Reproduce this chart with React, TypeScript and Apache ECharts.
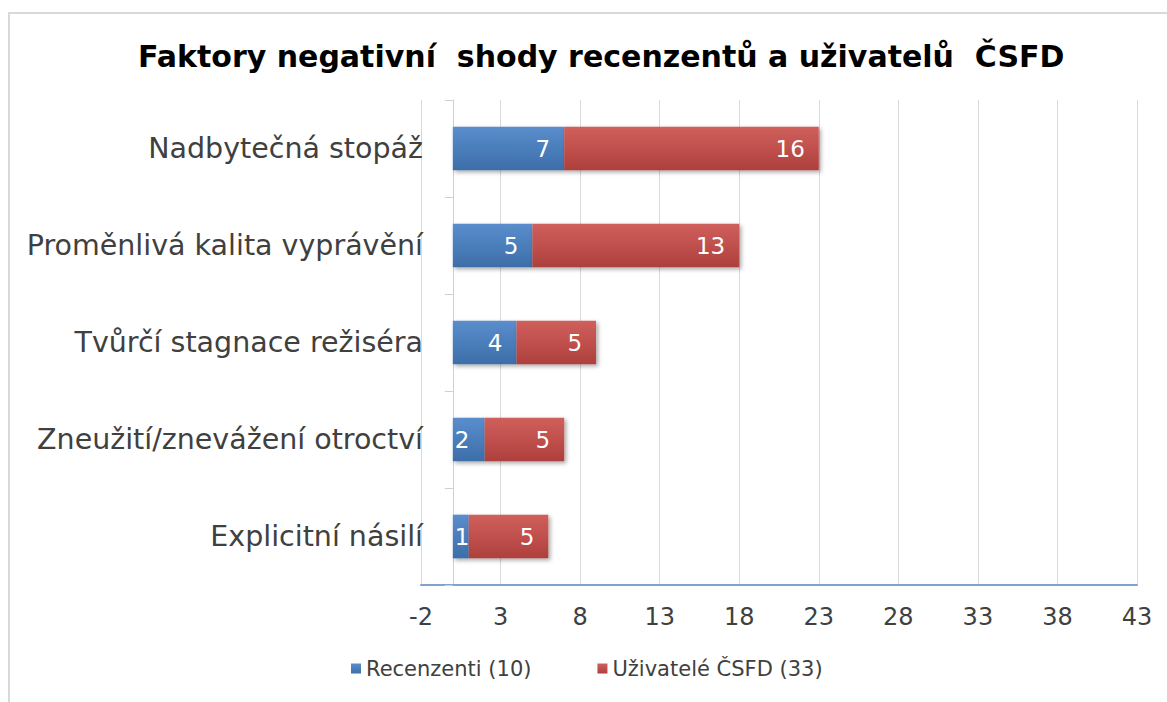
import React, { useEffect, useRef } from "react";
import * as echarts from "echarts";

const categories = [
  "Explicitní násilí",
  "Zneužití/znevážení otroctví",
  "Tvůrčí stagnace režiséra",
  "Proměnlivá kalita vyprávění",
  "Nadbytečná stopáž",
];
const recenzenti = [1, 2, 4, 5, 7];
const uzivatele = [5, 5, 5, 13, 16];
const seriesNames = ["Recenzenti (10)", "Uživatelé ČSFD (33)"];
const titleText = "Faktory negativní  shody recenzentů a uživatelů  ČSFD";

const FONT = "'DejaVu Sans', Verdana, sans-serif";

export default function App() {
  const ref = useRef<HTMLDivElement>(null);
  useEffect(() => {
    if (!ref.current) return;
    const chart = echarts.init(ref.current, null, { renderer: "svg" });
    const blue = new echarts.graphic.LinearGradient(0, 0, 0, 1, [
      { offset: 0, color: "#5b8dcc" },
      { offset: 0.5, color: "#4a7ebb" },
      { offset: 1, color: "#3d6ea8" },
    ]);
    const red = new echarts.graphic.LinearGradient(0, 0, 0, 1, [
      { offset: 0, color: "#cf5f5b" },
      { offset: 0.5, color: "#c0504d" },
      { offset: 1, color: "#ad3f3c" },
    ]);
    const labelStyle = {
      show: true,
      position: "insideRight" as const,
      color: "#ffffff",
      fontFamily: FONT,
      fontSize: 23,
      distance: 14,
    };
    const toData = (vals: number[]) =>
      vals.map((v) =>
        v <= 2
          ? { value: v, label: { position: "insideLeft" as const, distance: 2 } }
          : v
      );
    chart.setOption({
      animation: false,
      backgroundColor: "#ffffff",
      graphic: [
        {
          type: "rect",
          shape: { x: 9, y: 13, width: 1200, height: 720 },
          style: { fill: "none", stroke: "#d9d9d9", lineWidth: 2 },
          silent: true,
        },
      ],
      title: {
        text: titleText,
        left: 133,
        top: 36,
        textStyle: {
          fontFamily: FONT,
          fontWeight: "bold",
          fontSize: 30,
          color: "#000000",
        },
      },
      legend: {
        bottom: 18,
        left: 346,
        icon: "rect",
        itemWidth: 10,
        itemHeight: 10,
        itemGap: 66,
        itemStyle: { shadowBlur: 0, shadowOffsetX: 0, shadowOffsetY: 0 },
        textStyle: { fontFamily: FONT, fontSize: 21, color: "#404040" },
        data: seriesNames,
      },
      grid: { left: 421, right: 30, top: 100, bottom: 117, containLabel: false },
      xAxis: {
        type: "value",
        min: -2,
        max: 43,
        interval: 5,
        axisLine: { show: true, lineStyle: { color: "#7fa3cc", width: 2 } },
        axisTick: { show: false },
        axisLabel: { fontFamily: FONT, fontSize: 24, color: "#404040", margin: 20 },
        splitLine: { show: true, lineStyle: { color: "#d9d9d9", width: 1 } },
      },
      yAxis: {
        type: "category",
        data: categories,
        axisLine: { show: true, onZero: true, lineStyle: { color: "#d0d0d0", width: 1 } },
        axisTick: { show: true, length: 8, lineStyle: { color: "#d0d0d0" } },
        axisLabel: { fontFamily: FONT, fontSize: 28.5, color: "#404040", margin: -2 },
        splitLine: { show: false },
      },
      series: [
        {
          name: seriesNames[0],
          type: "bar",
          stack: "total",
          data: toData(recenzenti),
          barWidth: "45%",
          itemStyle: {
            color: blue,
            shadowColor: "rgba(0,0,0,0.35)",
            shadowBlur: 4,
            shadowOffsetX: 2,
            shadowOffsetY: 2,
          },
          label: labelStyle,
        },
        {
          name: seriesNames[1],
          type: "bar",
          stack: "total",
          data: toData(uzivatele),
          barWidth: "45%",
          itemStyle: {
            color: red,
            shadowColor: "rgba(0,0,0,0.35)",
            shadowBlur: 4,
            shadowOffsetX: 2,
            shadowOffsetY: 2,
          },
          label: labelStyle,
        },
      ],
    });
    return () => chart.dispose();
  }, []);
  return (
    <div
      ref={ref}
      style={{ position: "absolute", left: 0, top: 0, width: 1167, height: 702 }}
    />
  );
}
